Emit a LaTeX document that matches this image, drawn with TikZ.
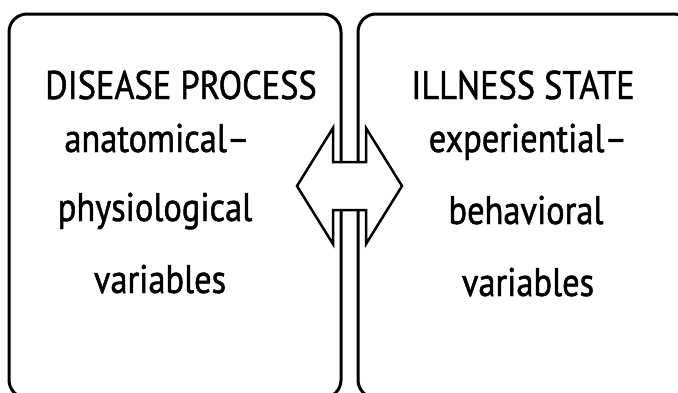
\documentclass[tikz,border=0pt]{standalone}
\usepackage{fontspec}
\setmainfont{PT Sans}[FakeStretch=0.86, FakeBold=1.2]
\begin{document}
\begin{tikzpicture}[x=1pt,y=-1pt]
	\tikzset{boxline/.style={line width=3pt, rounded corners=18pt}}
	\tikzset{arrowline/.style={line width=2.5pt, fill=white, line join=miter}}
	\tikzset{label/.style={anchor=base, inner sep=0pt,
				font=\fontsize{40}{44}\selectfont}}

		\clip (0,0) rectangle (678,392);

		% the two boxes
		\draw[boxline] (9,14) rectangle (341,398);
		\draw[boxline] (358,14) rectangle (692,398);

		% block arrow between them
		\draw[arrowline] (297,186) -- (333,128) -- (333,162) -- (366,162)
			-- (366,128) -- (402,186) -- (366,244) -- (366,210)
			-- (333,210) -- (333,244) -- cycle;

		\node[label] (lhead) at (181,99) {DISEASE PROCESS};
		\node[label] (lone) at (157,152) {anatomical--};
		\node[label] (ltwo) at (155,221) {physiological};
		\node[label] (lthree) at (160,293) {variables};

		\node[label] (rhead) at (523,99) {ILLNESS STATE};
		\node[label] (rone) at (528,152) {experiential--};
		\node[label] (rtwo) at (526,224) {behavioral};
		\node[label] (rthree) at (528,296) {variables};
\end{tikzpicture}
\end{document}
